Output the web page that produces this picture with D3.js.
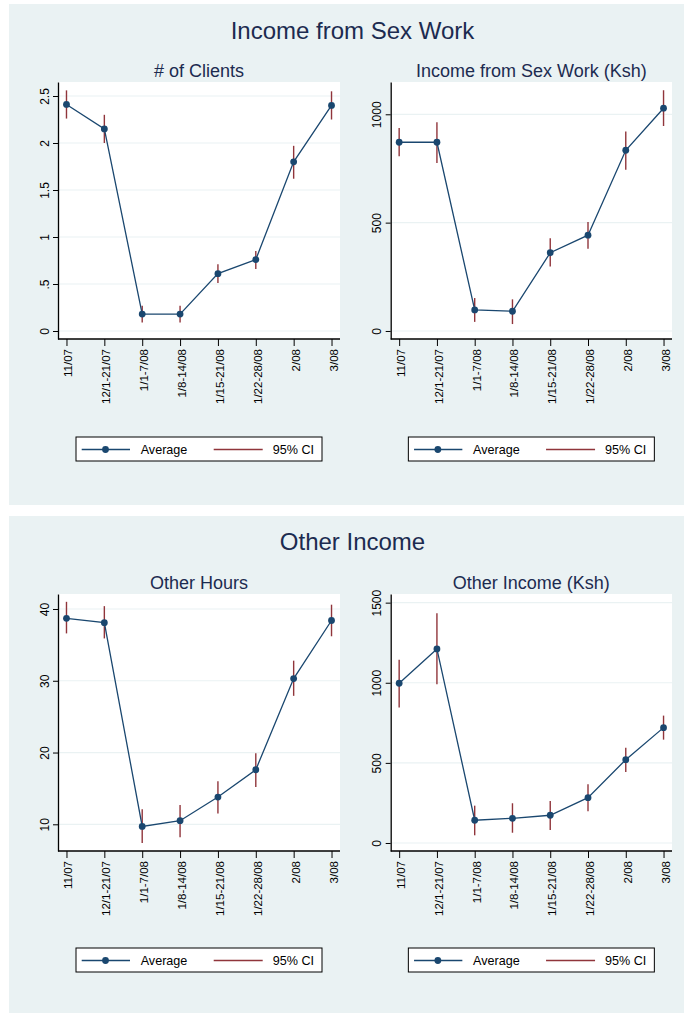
<!DOCTYPE html>
<html>
<head>
<meta charset="utf-8">
<script src="https://cdn.jsdelivr.net/npm/d3@7"></script>
<style>
  html, body { margin: 0; padding: 0; background: #fff; }
  svg { display: block; font-family: "Liberation Sans", Arial, Helvetica, sans-serif; }
</style>
</head>
<body>
<svg id="chart" width="684" height="1013"></svg>
<script>
// Survey periods (x categories)
const periods = ["11/07", "12/1-21/07", "1/1-7/08", "1/8-14/08", "1/15-21/08", "1/22-28/08", "2/08", "3/08"];

// # of clients
const clientsAvg = [2.41, 2.15, 0.18, 0.18, 0.61, 0.76, 1.80, 2.40];
const clientsLo  = [2.26, 2.00, 0.09, 0.09, 0.51, 0.66, 1.62, 2.25];
const clientsHi  = [2.56, 2.30, 0.27, 0.27, 0.71, 0.85, 1.97, 2.55];
const clientsTicks = [0, 0.5, 1, 1.5, 2, 2.5];
const clientsTickLabels = ["0", ".5", "1", "1.5", "2", "2.5"];

// Income from sex work (Ksh)
const sexIncAvg = [871, 871, 97, 91, 361, 442, 834, 1028];
const sexIncLo  = [806, 775, 42, 32, 297, 380, 744, 946];
const sexIncHi  = [937, 963, 152, 146, 428, 503, 921, 1111];
const sexIncTicks = [0, 500, 1000];
const sexIncTickLabels = ["0", "500", "1000"];

// Other hours
const otherHoursAvg = [38.7, 38.1, 9.7, 10.5, 13.8, 17.6, 30.3, 38.4];
const otherHoursLo  = [36.6, 35.9, 7.4, 8.2, 11.5, 15.2, 27.9, 36.2];
const otherHoursHi  = [41.0, 40.4, 12.1, 12.7, 16.0, 19.9, 32.8, 40.6];
const otherHoursTicks = [10, 20, 30, 40];
const otherHoursTickLabels = ["10", "20", "30", "40"];

// Other income (Ksh)
const otherIncAvg = [997, 1211, 142, 154, 173, 283, 520, 720];
const otherIncLo  = [845, 991, 48, 64, 81, 198, 443, 645];
const otherIncHi  = [1144, 1434, 233, 248, 262, 366, 595, 795];
const otherIncTicks = [0, 500, 1000, 1500];
const otherIncTickLabels = ["0", "500", "1000", "1500"];

const legendLabels = ["Average", "95% CI"];

// Colours
const NAVY = "#1a476f";
const MAROON = "#90353b";
const BG = "#eaf2f3";
const TITLE = "#1c2b50";
const FONT = '"Liberation Sans", Arial, Helvetica, sans-serif';

const svg = d3.select("#chart");

// Two graph regions (one per group of panels)
const groups = [
  { title: "Income from Sex Work", top: 4, height: 501, titleY: 39 },
  { title: "Other Income", top: 516, height: 497, titleY: 550 }
];
groups.forEach(g => {
  svg.append("rect").attr("x", 9).attr("y", g.top).attr("width", 690).attr("height", g.height).attr("fill", BG);
  svg.append("text").attr("x", 352.5).attr("y", g.titleY).attr("text-anchor", "middle")
    .attr("font-size", 24).attr("fill", TITLE).text(g.title);
});

const panels = [
  { title: "# of Clients", left: 58, right: 340, top: 82, bottom: 339, dom: [-0.085, 2.649],
    avg: clientsAvg, lo: clientsLo, hi: clientsHi, ticks: clientsTicks, tickLabels: clientsTickLabels,
    subY: 77, legY: 437 },
  { title: "Income from Sex Work (Ksh)", left: 390.7, right: 672, top: 82, bottom: 339, dom: [-37, 1149],
    avg: sexIncAvg, lo: sexIncLo, hi: sexIncHi, ticks: sexIncTicks, tickLabels: sexIncTickLabels,
    subY: 77, legY: 437 },
  { title: "Other Hours", left: 58, right: 340, top: 594, bottom: 851, dom: [6.28, 42.09],
    avg: otherHoursAvg, lo: otherHoursLo, hi: otherHoursHi, ticks: otherHoursTicks, tickLabels: otherHoursTickLabels,
    subY: 588.5, legY: 948 },
  { title: "Other Income (Ksh)", left: 390.7, right: 672, top: 594, bottom: 851, dom: [-50, 1554],
    avg: otherIncAvg, lo: otherIncLo, hi: otherIncHi, ticks: otherIncTicks, tickLabels: otherIncTickLabels,
    subY: 588.5, legY: 948 }
];

panels.forEach(p => {
  const g = svg.append("g");
  const cx = (p.left + p.right) / 2;

  // subtitle
  g.append("text").attr("x", cx).attr("y", p.subY).attr("text-anchor", "middle")
    .attr("font-size", 18).attr("fill", TITLE).text(p.title);

  // plot area
  g.append("rect").attr("x", p.left).attr("y", p.top)
    .attr("width", p.right - p.left).attr("height", p.bottom - p.top).attr("fill", "#fff");

  const x = d3.scalePoint().domain(periods).range([p.left, p.right]).padding(0.224);
  const y = d3.scaleLinear().domain(p.dom).range([p.bottom, p.top]);

  // gridlines
  g.append("g").selectAll("line").data(p.ticks).join("line")
    .attr("x1", p.left).attr("x2", p.right)
    .attr("y1", d => y(d)).attr("y2", d => y(d))
    .attr("stroke", BG).attr("stroke-width", 1.2);

  // y axis
  const yAxis = g.append("g").attr("transform", `translate(${p.left},0)`)
    .call(d3.axisLeft(y).tickValues(p.ticks).tickSize(5).tickSizeOuter(0)
      .tickFormat((d, i) => p.tickLabels[i]))
    .attr("font-family", FONT).attr("font-size", 12);
  yAxis.select(".domain").attr("stroke", "#000").attr("stroke-width", 1.3);
  yAxis.selectAll(".tick line").attr("stroke", "#000").attr("stroke-width", 1);
  yAxis.selectAll(".tick text")
    .attr("x", null).attr("dy", null)
    .attr("transform", "translate(-9.5,0) rotate(-90)")
    .attr("text-anchor", "middle")
    .attr("fill", "#000");

  // x axis
  const xAxis = g.append("g").attr("transform", `translate(0,${p.bottom})`)
    .call(d3.axisBottom(x).tickSize(7).tickSizeOuter(0))
    .attr("font-family", FONT).attr("font-size", 11.5);
  xAxis.select(".domain").attr("stroke", "#000").attr("stroke-width", 1.3)
    .attr("d", `M${p.left},0H${p.right}`);
  xAxis.selectAll(".tick line").attr("stroke", "#000").attr("stroke-width", 1);
  xAxis.selectAll(".tick text")
    .attr("y", null).attr("dy", null)
    .attr("transform", "translate(5.5,10) rotate(-90)")
    .attr("text-anchor", "end")
    .attr("fill", "#000");

  // confidence intervals
  g.append("g").selectAll("line").data(periods).join("line")
    .attr("x1", d => x(d)).attr("x2", d => x(d))
    .attr("y1", (d, i) => y(p.lo[i])).attr("y2", (d, i) => y(p.hi[i]))
    .attr("stroke", MAROON).attr("stroke-width", 1.4);

  // average line
  const line = d3.line().x((d, i) => x(periods[i])).y(d => y(d));
  g.append("path").datum(p.avg).attr("d", line)
    .attr("fill", "none").attr("stroke", NAVY).attr("stroke-width", 1.3);

  g.append("g").selectAll("circle").data(p.avg).join("circle")
    .attr("cx", (d, i) => x(periods[i])).attr("cy", d => y(d)).attr("r", 3.4)
    .attr("fill", NAVY);

  // legend
  const lx = cx - 123, ly = p.legY;
  const leg = g.append("g").attr("transform", `translate(${lx},${ly})`);
  leg.append("rect").attr("x", 0).attr("y", 0).attr("width", 246).attr("height", 24)
    .attr("fill", "#fff").attr("stroke", "#000").attr("stroke-width", 1);
  leg.append("line").attr("x1", 5.7).attr("x2", 54).attr("y1", 12.5).attr("y2", 12.5)
    .attr("stroke", NAVY).attr("stroke-width", 1.3);
  leg.append("circle").attr("cx", 29.5).attr("cy", 12.5).attr("r", 3.4).attr("fill", NAVY);
  leg.append("text").attr("x", 64.7).attr("y", 16.8).attr("font-size", 12.6).attr("fill", "#000").text(legendLabels[0]);
  leg.append("line").attr("x1", 137.7).attr("x2", 186.7).attr("y1", 12.5).attr("y2", 12.5)
    .attr("stroke", MAROON).attr("stroke-width", 1.3);
  leg.append("text").attr("x", 196.7).attr("y", 16.8).attr("font-size", 12.6).attr("fill", "#000").text(legendLabels[1]);
});
</script>
</body>
</html>
